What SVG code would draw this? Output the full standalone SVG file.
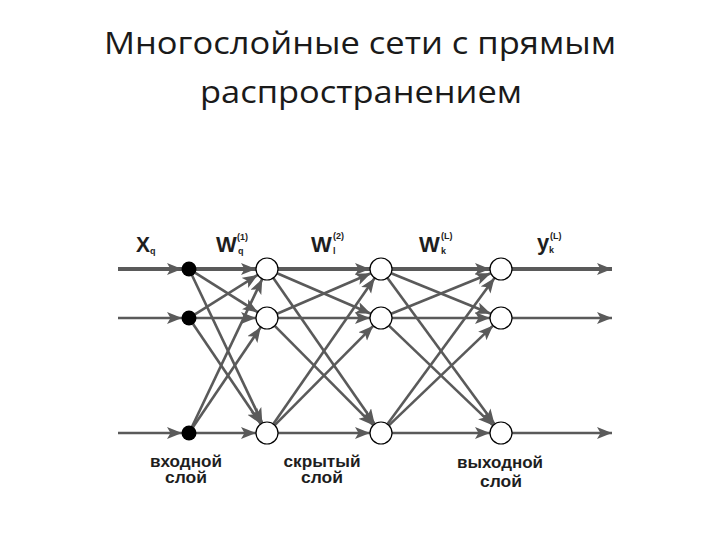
<svg xmlns="http://www.w3.org/2000/svg" width="720" height="540" viewBox="0 0 720 540">
<style>
.title{font-family:"Open Sans","Liberation Sans",sans-serif;font-size:31px;fill:#1a1a1a;text-anchor:middle}
.lbl{font-family:"Liberation Sans",Arial,sans-serif;font-weight:bold;font-size:16px;fill:#1e1e1e;text-anchor:middle}
.sym{font-family:"Liberation Sans",Arial,sans-serif;font-weight:bold;fill:#1e1e1e}
.c line{stroke:#5a5a5a;stroke-width:2.6;marker-end:url(#ah)}
.hid{fill:#fff;stroke:#000;stroke-width:1.2}
.inp{fill:#000}
</style>
<defs>
<marker id="ah" markerUnits="userSpaceOnUse" markerWidth="17" markerHeight="13" refX="15" refY="6" orient="auto">
<path d="M0,0 L15,6 L0,12 L3.5,6 Z" fill="#5a5a5a"/>
</marker>
</defs>
<rect width="720" height="540" fill="#fff"/>
<text class="title" x="360" y="54" textLength="512" lengthAdjust="spacingAndGlyphs">Многослойные сети с прямым</text>
<text class="title" x="361" y="103" textLength="322" lengthAdjust="spacingAndGlyphs">распространением</text>

<g id="labels-top">
<text class="sym" x="136" y="252" font-size="22" textLength="14" lengthAdjust="spacingAndGlyphs">X</text>
<text class="sym" x="150" y="254" font-size="9">q</text>
<text class="sym" x="216" y="252" font-size="22">W</text>
<text class="sym" x="238" y="254" font-size="9">q</text>
<text class="sym" x="237" y="240" font-size="9">(1)</text>
<text class="sym" x="311" y="252" font-size="22">W</text>
<text class="sym" x="333" y="254" font-size="9">l</text>
<text class="sym" x="333" y="239" font-size="9">(2)</text>
<text class="sym" x="419" y="252" font-size="22">W</text>
<text class="sym" x="441" y="254" font-size="9">k</text>
<text class="sym" x="441" y="239" font-size="9">(L)</text>
<text class="sym" x="537" y="250" font-size="22">y</text>
<text class="sym" x="549" y="253" font-size="9">k</text>
<text class="sym" x="550" y="239" font-size="9">(L)</text>
</g>

<g class="c" id="connectors">
<!-- input arrows -->
<line x1="118" y1="269" x2="182" y2="269" style="stroke-width:4"/>
<line x1="118" y1="318" x2="182" y2="318"/>
<line x1="118" y1="433" x2="182" y2="433"/>
<!-- input -> hidden1 -->
<line x1="196" y1="269" x2="256" y2="269" style="stroke-width:4"/>
<line x1="194.9" y1="272.7" x2="257.7" y2="312.2"/>
<line x1="192" y1="275.3" x2="262.3" y2="423.1"/>
<line x1="194.9" y1="314.3" x2="257.7" y2="274.9"/>
<line x1="196" y1="318" x2="256" y2="318"/>
<line x1="192.9" y1="323.8" x2="260.8" y2="423.9"/>
<line x1="192" y1="426.7" x2="262.3" y2="278.9"/>
<line x1="192.9" y1="427.2" x2="260.8" y2="327.1"/>
<line x1="196" y1="433" x2="256" y2="433"/>
<!-- hidden1 -> hidden2 -->
<line x1="278" y1="269" x2="370" y2="269" style="stroke-width:4"/>
<line x1="277.1" y1="273.3" x2="370.9" y2="313.7"/>
<line x1="273.3" y1="278" x2="374.7" y2="424"/>
<line x1="277.1" y1="313.7" x2="370.9" y2="273.3"/>
<line x1="278" y1="318" x2="370" y2="318"/>
<line x1="274.75" y1="325.8" x2="373.25" y2="425.2"/>
<line x1="273.3" y1="424" x2="374.7" y2="278"/>
<line x1="274.75" y1="425.2" x2="373.25" y2="325.8"/>
<line x1="278" y1="433" x2="370" y2="433"/>
<!-- hidden2 -> output -->
<line x1="392" y1="269" x2="490" y2="269" style="stroke-width:4"/>
<line x1="391.2" y1="273.2" x2="490.8" y2="313.8"/>
<line x1="387.5" y1="277.9" x2="494.5" y2="424.1"/>
<line x1="391.2" y1="313.8" x2="490.8" y2="273.2"/>
<line x1="392" y1="318" x2="490" y2="318"/>
<line x1="388.9" y1="325.6" x2="493.1" y2="425.4"/>
<line x1="387.5" y1="424.1" x2="494.5" y2="277.9"/>
<line x1="388.9" y1="425.4" x2="493.1" y2="325.6"/>
<line x1="392" y1="433" x2="490" y2="433"/>
<!-- output arrows -->
<line x1="512" y1="269" x2="612" y2="269" style="stroke-width:4"/>
<line x1="512" y1="318" x2="612" y2="318"/>
<line x1="512" y1="433" x2="612" y2="433"/>
</g>

<g id="in0"><circle class="inp" cx="189" cy="269" r="7.5"/></g>
<g id="in1"><circle class="inp" cx="189" cy="318" r="7.5"/></g>
<g id="in2"><circle class="inp" cx="189" cy="433" r="7.5"/></g>
<g id="h1a"><circle class="hid" cx="267" cy="269" r="11"/></g>
<g id="h1b"><circle class="hid" cx="267" cy="318" r="11"/></g>
<g id="h1c"><circle class="hid" cx="267" cy="433" r="11"/></g>
<g id="h2a"><circle class="hid" cx="381" cy="269" r="11"/></g>
<g id="h2b"><circle class="hid" cx="381" cy="318" r="11"/></g>
<g id="h2c"><circle class="hid" cx="381" cy="433" r="11"/></g>
<g id="oa"><circle class="hid" cx="501" cy="269" r="11"/></g>
<g id="ob"><circle class="hid" cx="501" cy="318" r="11"/></g>
<g id="oc"><circle class="hid" cx="501" cy="433" r="11"/></g>

<g id="labels-bottom">
<text class="lbl" x="186" y="467" textLength="72" lengthAdjust="spacingAndGlyphs">входной</text>
<text class="lbl" x="186" y="483" textLength="42" lengthAdjust="spacingAndGlyphs">слой</text>
<text class="lbl" x="322" y="467" textLength="77" lengthAdjust="spacingAndGlyphs">скрытый</text>
<text class="lbl" x="322" y="483" textLength="42" lengthAdjust="spacingAndGlyphs">слой</text>
<text class="lbl" x="500" y="468" textLength="86" lengthAdjust="spacingAndGlyphs">выходной</text>
<text class="lbl" x="501" y="487" textLength="42" lengthAdjust="spacingAndGlyphs">слой</text>
</g>
</svg>
